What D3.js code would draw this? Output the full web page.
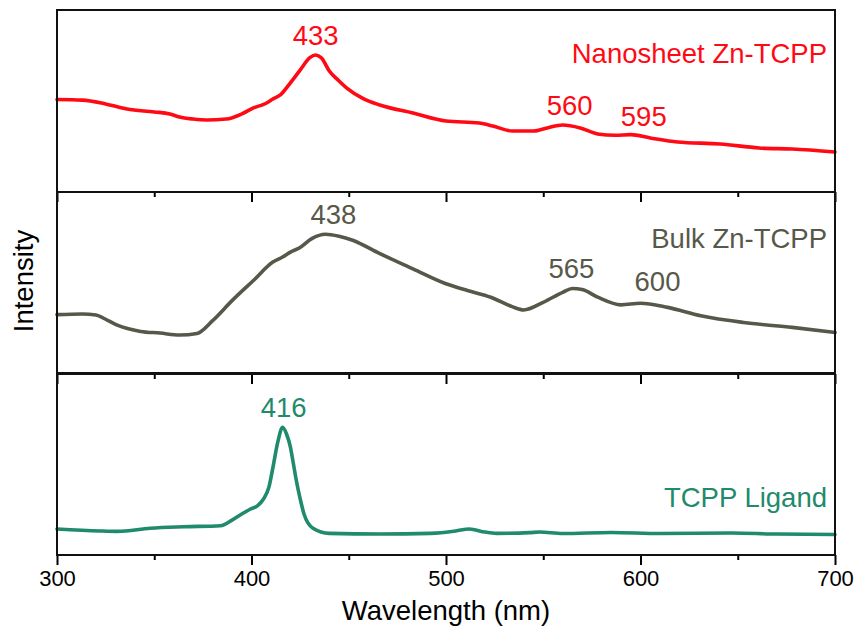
<!DOCTYPE html>
<html>
<head>
<meta charset="utf-8">
<script src="https://cdn.jsdelivr.net/npm/d3@7"></script>
<style>
  html, body { margin: 0; padding: 0; background: #fff; }
  svg { display: block; font-family: "Liberation Sans", Arial, sans-serif; }
</style>
</head>
<body>
<svg id="chart" width="858" height="628"></svg>
<script>
// Absorption spectra, intensity in arbitrary units (0-100 per panel)
const nanosheetWl = [300, 313, 325, 336, 350, 358, 363, 370, 377, 387, 395, 401, 407, 411, 415, 420, 425, 430, 433, 436, 440, 445, 449, 457, 466, 483, 500, 517, 524, 534, 545, 552, 560, 569, 578, 587, 595, 605, 619, 641, 661, 678, 700];
const nanosheetI  = [50.8, 50.5, 48.4, 45.6, 44.0, 42.9, 41.2, 40.1, 39.6, 40.1, 42.9, 46.2, 48.5, 51.1, 53.5, 60.0, 67.0, 73.8, 75.3, 73.6, 66.5, 61.0, 57.1, 51.6, 47.8, 43.4, 39.0, 37.9, 36.3, 33.5, 33.5, 35.2, 36.8, 35.2, 31.9, 31.2, 31.5, 29.7, 27.5, 26.4, 24.2, 23.6, 22.0];

const bulkWl = [300, 313, 320, 326, 331, 343, 353, 363, 372, 380, 390, 401, 411, 416, 420, 425, 431, 438, 445, 452, 466, 483, 500, 511, 523, 534, 540, 550, 560, 565, 570, 578, 590, 600, 614, 631, 653, 678, 700];
const bulkI  = [32.6, 33.0, 32.4, 29.5, 26.8, 23.4, 22.5, 21.4, 22.3, 29.3, 40.3, 51.4, 61.5, 64.3, 67.0, 69.5, 74.4, 76.8, 75.7, 73.5, 66.1, 57.8, 49.6, 45.9, 42.2, 37.0, 35.2, 39.4, 44.9, 47.0, 46.4, 42.2, 38.0, 38.9, 36.6, 32.0, 28.3, 25.6, 22.8];

const ligandWl = [300, 322, 331, 348, 365, 384, 390, 395, 399, 403, 406, 409, 411, 413.5, 416, 418, 420, 421.5, 423, 425, 427, 431.6, 440, 466, 492, 505, 512, 520, 526, 543, 548, 560, 585, 610, 647, 670, 700];
const ligandI  = [14.3, 13.2, 13.0, 14.7, 15.5, 16.1, 19.2, 22.5, 25.0, 27.0, 30.5, 37.5, 48.0, 62.0, 70.2, 66.5, 59.3, 50.4, 41.2, 31.0, 22.5, 14.7, 11.9, 11.5, 11.9, 13.2, 14.3, 12.6, 11.9, 12.3, 12.6, 11.8, 12.4, 11.8, 12.1, 11.5, 11.3];

// Peak annotations (wavelength, nm)
const nanosheetPeaks = [433, 560, 595];
const bulkPeaks = [438, 565, 600];
const ligandPeaks = [416];

const seriesNames = ["Nanosheet Zn-TCPP", "Bulk Zn-TCPP", "TCPP Ligand"];
const seriesColors = ["#ff0a14", "#58584a", "#1f8a6c"];

const xTicks = [300, 400, 500, 600, 700];
const xMinorTicks = [350, 450, 550, 650];

const svg = d3.select("#chart");
const left = 57, right = 835;
const panelTops = [10, 192, 373];
const panelH = 182;
const textSize = 27.5;

const x = d3.scaleLinear().domain([300, 700]).range([left, right]);

const panels = [
  { wl: nanosheetWl, I: nanosheetI, peaks: nanosheetPeaks, labelDy: [-10, -10, -9], labelDx: [0, 7, 13], nameY: 63 },
  { wl: bulkWl, I: bulkI, peaks: bulkPeaks, labelDy: [-10, -10, -12], labelDx: [8, -1, 17], nameY: 248 },
  { wl: ligandWl, I: ligandI, peaks: ligandPeaks, labelDy: [-10], labelDx: [1], nameY: 507 }
];

panels.forEach((p, i) => {
  const top = panelTops[i];
  const bottom = top + panelH;
  const y = d3.scaleLinear().domain([0, 100]).range([bottom, top]);
  const g = svg.append("g");
  const color = seriesColors[i];
  const data = p.wl.map((w, k) => [w, p.I[k]]);

  const line = d3.line()
    .x(d => x(d[0]))
    .y(d => y(d[1]))
    .curve(d3.curveMonotoneX);

  g.append("path")
    .datum(data)
    .attr("fill", "none")
    .attr("stroke", color)
    .attr("stroke-width", 3.6)
    .attr("stroke-linejoin", "round")
    .attr("stroke-linecap", "round")
    .attr("d", line);

  // peak labels sit above the curve at each annotated wavelength
  const interp = w => {
    const idx = d3.bisectLeft(p.wl, w);
    if (p.wl[idx] === w) return p.I[idx];
    const a = idx - 1, b = idx;
    const t = (w - p.wl[a]) / (p.wl[b] - p.wl[a]);
    return p.I[a] + t * (p.I[b] - p.I[a]);
  };
  p.peaks.forEach((w, k) => {
    g.append("text")
      .attr("x", x(w) + p.labelDx[k])
      .attr("y", y(interp(w)) + p.labelDy[k])
      .attr("text-anchor", "middle")
      .attr("font-size", textSize)
      .attr("fill", color)
      .text(w);
  });

  // series name, right-aligned inside the panel
  g.append("text")
    .attr("x", 827)
    .attr("y", p.nameY)
    .attr("text-anchor", "end")
    .attr("font-size", textSize)
    .attr("fill", color)
    .text(seriesNames[i]);

  // bottom axis with outward ticks; labels only on the lowest panel
  const axis = d3.axisBottom(x)
    .tickValues(xTicks)
    .tickSize(10)
    .tickFormat(i === 2 ? d3.format("d") : () => "");
  const ag = g.append("g")
    .attr("transform", `translate(0,${bottom})`)
    .call(axis);
  ag.select(".domain").remove();
  ag.selectAll(".tick line").attr("stroke", "#000").attr("stroke-width", 2);
  ag.selectAll(".tick text")
    .attr("font-size", 22)
    .attr("font-family", "Liberation Sans, Arial, sans-serif")
    .attr("fill", "#000")
    .attr("dy", "0.95em")
    .attr("y", 10);

  const minor = d3.axisBottom(x).tickValues(xMinorTicks).tickSize(5).tickFormat(() => "");
  const mg = g.append("g").attr("transform", `translate(0,${bottom})`).call(minor);
  mg.select(".domain").remove();
  mg.selectAll(".tick line").attr("stroke", "#000").attr("stroke-width", 2);

  // panel frame
  g.append("rect")
    .attr("x", left)
    .attr("y", top)
    .attr("width", right - left)
    .attr("height", panelH)
    .attr("fill", "none")
    .attr("stroke", "#111")
    .attr("stroke-width", 2);
});

svg.append("text")
  .attr("x", x(500))
  .attr("y", 620)
  .attr("text-anchor", "middle")
  .attr("font-size", textSize)
  .attr("fill", "#000")
  .text("Wavelength (nm)");

svg.append("text")
  .attr("transform", "translate(33,281) rotate(-90)")
  .attr("text-anchor", "middle")
  .attr("font-size", textSize)
  .attr("fill", "#000")
  .text("Intensity");
</script>
</body>
</html>
